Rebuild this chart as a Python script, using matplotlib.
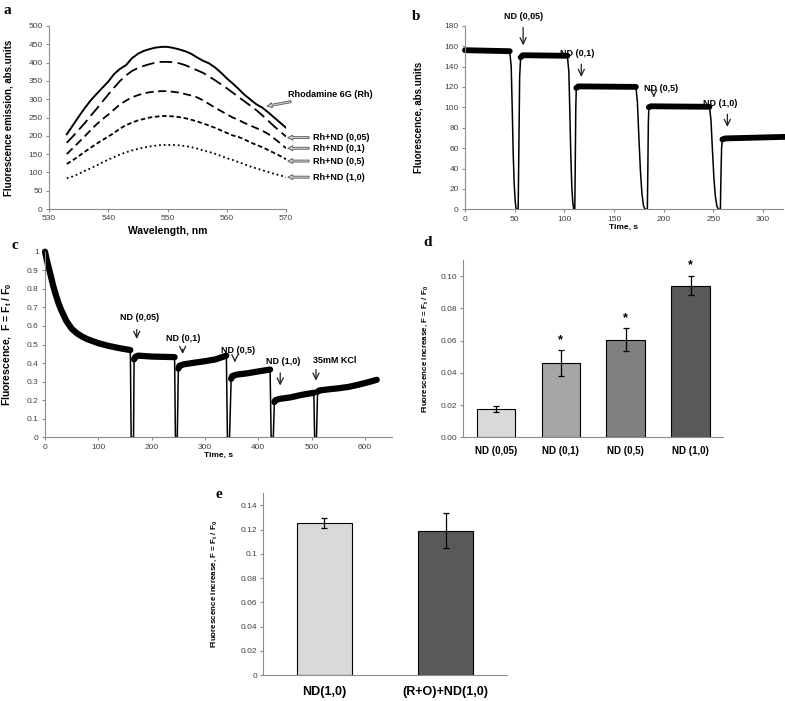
import matplotlib
matplotlib.use("Agg")
import matplotlib.pyplot as plt

plt.rcParams["font.family"] = ["Liberation Sans", "DejaVu Sans"]
plt.rcParams["mathtext.fontset"] = "custom"
plt.rcParams["mathtext.rm"] = "Liberation Sans:bold"
plt.rcParams["mathtext.it"] = "Liberation Sans:bold"
plt.rcParams["mathtext.bf"] = "Liberation Sans:bold"
plt.rcParams["mathtext.default"] = "bf"

# ---- panel a: emission spectra ----
wavelength = list(range(533, 571))
rh = [204, 228, 252, 275, 296, 314, 331, 348, 369, 383, 393, 412, 424, 432, 437, 441, 443, 443, 440,
      436, 431, 424, 414, 405, 398, 387, 373, 357, 343, 328, 312, 299, 286, 277, 264, 250, 236, 222]
rh_nd005 = [181, 198, 216, 234, 254, 273, 293, 313, 332, 350, 365, 377, 385, 391, 396, 400, 402, 402, 401,
            398, 393, 386, 379, 372, 362, 352, 341, 330, 318, 306, 294, 282, 270, 256, 241, 226, 212, 198]
rh_nd01 = [150, 166, 182, 198, 215, 231, 245, 258, 272, 286, 296, 305, 311, 316, 319, 321, 322, 322, 320,
           318, 314, 310, 305, 297, 287, 277, 268, 259, 250, 243, 235, 228, 221, 214, 205, 193, 180, 166]
rh_nd05 = [123, 133, 144, 156, 167, 178, 188, 198, 208, 220, 229, 236, 242, 246, 250, 252, 254, 254, 253,
           251, 248, 244, 239, 234, 228, 222, 215, 208, 201, 197, 190, 182, 175, 169, 161, 153, 145, 136]
rh_nd10 = [84, 89, 96, 104, 111, 119, 127, 135, 142, 149, 155, 160, 164, 168, 171, 173, 175, 175, 175,
           174, 172, 169, 165, 160, 156, 151, 145, 139, 134, 128, 122, 116, 111, 106, 101, 96, 92, 87]
spectra_labels = ["Rhodamine 6G (Rh)", "Rh+ND (0,05)", "Rh+ND (0,1)", "Rh+ND (0,5)", "Rh+ND (1,0)"]

# ---- panel b: fluorescence time course ----
b_plateau_t = [[0, 45], [56, 58, 62, 103], [112, 114, 172], [185, 187, 246], [259, 262, 322]]
b_plateau_f = [[156, 155], [149, 151, 151, 150.5], [119, 120.5, 120], [100, 101, 100.5], [68.5, 69.5, 71]]
b_drop_t = [[45, 46.5, 47.5, 48.5, 49.5, 50.5, 51.5, 53.5, 54.2, 55, 56],
            [103, 104.5, 105.5, 106.5, 107.5, 108.5, 109.5, 110.5, 111, 111.5, 112],
            [172, 173.5, 175, 176.5, 178, 179.5, 181, 183.5, 184, 184.5, 185],
            [246, 247.5, 249, 250.5, 252, 253.5, 255, 257, 257.5, 258.2, 259]]
b_drop_f = [[155, 140, 100, 55, 25, 8, 0, 0, 60, 130, 149],
            [150.5, 135, 95, 52, 22, 6, 0, 0, 50, 100, 119],
            [120, 105, 70, 38, 16, 4, 0, 0, 40, 85, 100],
            [100.5, 88, 58, 30, 12, 3, 0, 0, 30, 60, 68.5]]
b_marks = ["ND (0,05)", "ND (0,1)", "ND (0,5)", "ND (1,0)"]
b_mark_t = [58.5, 117, 190, 264]

# ---- panel c: normalized fluorescence time course ----
c_seg_t = [[0, 3, 6, 10, 15, 20, 25, 30, 40, 50, 60, 70, 80, 100, 120, 140, 160],
           [167, 170, 175, 200, 243],
           [250, 252, 260, 280, 300, 320, 340],
           [349, 351, 360, 380, 400, 422],
           [430, 432, 440, 460, 480, 504],
           [511, 514, 530, 550, 570, 590, 610, 622]]
c_seg_f = [[1.0, 0.96, 0.925, 0.88, 0.82, 0.77, 0.725, 0.688, 0.627, 0.585, 0.56, 0.542, 0.528, 0.507,
            0.492, 0.48, 0.47],
           [0.42, 0.435, 0.44, 0.435, 0.432],
           [0.37, 0.385, 0.393, 0.402, 0.41, 0.42, 0.44],
           [0.315, 0.33, 0.338, 0.345, 0.355, 0.365],
           [0.19, 0.2, 0.207, 0.215, 0.228, 0.24],
           [0.245, 0.252, 0.258, 0.264, 0.272, 0.285, 0.3, 0.31]]
c_drop_t = [[160, 161.5, 166, 167], [243, 244.5, 248, 250], [340, 342, 346, 349],
            [422, 424, 428, 430], [504, 505.5, 509, 511]]
c_drop_f = [[0.47, 0, 0, 0.42], [0.432, 0, 0, 0.37], [0.44, 0, 0, 0.315],
            [0.365, 0, 0, 0.19], [0.24, 0, 0, 0.245]]
c_marks = ["ND (0,05)", "ND (0,1)", "ND (0,5)", "ND (1,0)", "35mM KCl"]
c_mark_t = [172, 258, 356, 441, 508]

# ---- panel d: fluorescence increase ----
d_labels = ["ND (0,05)", "ND (0,1)", "ND (0,5)", "ND (1,0)"]
d_values = [0.0173, 0.046, 0.0606, 0.094]
d_errors = [0.0019, 0.008, 0.007, 0.006]
d_colors = ["#d9d9d9", "#a6a6a6", "#808080", "#595959"]

# ---- panel e ----
e_labels = ["ND(1,0)", "(R+O)+ND(1,0)"]
e_values = [0.1257, 0.119]
e_errors = [0.004, 0.0145]
e_colors = ["#d9d9d9", "#595959"]

W, H = 785, 701
fig = plt.figure(figsize=(W / 100, H / 100), dpi=100)


def add_ax(left, top, right, bottom):
    return fig.add_axes([left / W, 1 - bottom / H, (right - left) / W, (bottom - top) / H])


def style(ax, xticks=True):
    for s in ["top", "right"]:
        ax.spines[s].set_visible(False)
    for s in ["left", "bottom"]:
        ax.spines[s].set_color("#8c8c8c")
        ax.spines[s].set_linewidth(0.8)
    ax.tick_params(labelsize=6, color="#8c8c8c", labelcolor="#404040", length=2.5, width=0.8, pad=2)
    if not xticks:
        ax.tick_params(axis="x", length=0)


def letter(x, y, s):
    fig.text(x / W, 1 - y / H, s, family="Liberation Serif", weight="bold", fontsize=11, va="center")


arrow_down = dict(arrowstyle="->,head_length=0.45,head_width=0.22", lw=0.9, color="#222222")

# panel a
ax = add_ax(49, 26, 286, 209)
style(ax)
ax.plot(wavelength, rh, color="black", lw=1.4)
ax.plot(wavelength, rh_nd005, color="black", lw=1.3, dashes=(7, 3))
ax.plot(wavelength, rh_nd01, color="black", lw=1.3, dashes=(4.5, 2.5))
ax.plot(wavelength, rh_nd05, color="black", lw=1.3, dashes=(2.5, 1.5))
ax.plot(wavelength, rh_nd10, color="black", lw=1.3, dashes=(1, 1.6))
ax.set_xlim(530, 570)
ax.set_ylim(0, 500)
ax.set_xticks(range(530, 571, 10))
ax.set_yticks(range(0, 501, 50))
ax.set_xlabel("Wavelength, nm", fontsize=7.5, weight="bold", labelpad=3)
ax.set_ylabel("Fluorescence emission, abs.units", fontsize=7, weight="bold")
ax.yaxis.set_label_coords(-0.148, 0.5)
hollow = dict(arrowstyle="simple,head_length=0.55,head_width=0.55,tail_width=0.22",
              fc="#cfcfcf", ec="#555555", lw=0.6, shrinkA=1, shrinkB=0)
ax.annotate(spectra_labels[0], xy=(566.8, 281), xytext=(570.4, 314), fontsize=6.5, weight="bold",
            va="center", ha="left", arrowprops=hollow, annotation_clip=False)
for lab, yv in zip(spectra_labels[1:], [rh_nd005[-1] - 3, rh_nd01[-1], rh_nd05[-1] - 5, rh_nd10[-1]]):
    ax.annotate(lab, xy=(570.3, yv), xytext=(574.6, yv), fontsize=6.5, weight="bold",
                va="center", ha="left", arrowprops=hollow, annotation_clip=False)
letter(3, 11, "a")

# panel b
ax = add_ax(465, 25.7, 783, 209.3)
style(ax)
for t, f in zip(b_drop_t, b_drop_f):
    ax.plot(t, f, color="black", lw=1.1)
for t, f in zip(b_plateau_t, b_plateau_f):
    ax.plot(t, f, color="black", lw=4.2, solid_capstyle="round", clip_on=False)
ax.set_xlim(0, 320)
ax.set_ylim(0, 180)
ax.set_xticks(range(0, 301, 50))
ax.set_yticks(range(0, 181, 20))
ax.set_xlabel("Time, s", fontsize=6, weight="bold", labelpad=1)
ax.set_ylabel("Fluorescence, abs.units", fontsize=7, weight="bold")
ax.yaxis.set_label_coords(-0.132, 0.5)
b_text = [(58.5, 189), (113, 153), (197, 118), (257, 104)]
b_arrow = [(181, 158), (145, 127), (115, 107), (96, 78)]
for lab, t, (tx, ty), (a0, a1) in zip(b_marks, b_mark_t, b_text, b_arrow):
    ax.text(tx, ty, lab, fontsize=6.5, weight="bold", ha="center", va="center", clip_on=False)
    ax.annotate("", xy=(t, a1), xytext=(t, a0), annotation_clip=False, arrowprops=arrow_down)
letter(412, 16, "b")

# panel c
ax = add_ax(45, 251.7, 391.7, 437.3)
style(ax)
for t, f in zip(c_drop_t, c_drop_f):
    ax.plot(t, f, color="black", lw=1.1)
for t, f in zip(c_seg_t, c_seg_f):
    ax.plot(t, f, color="black", lw=4.5, solid_capstyle="round", clip_on=False)
ax.set_xlim(0, 650)
ax.set_ylim(0, 1.0)
ax.set_xticks(range(0, 601, 100))
ax.set_yticks([i / 10 for i in range(11)])
ax.set_yticklabels(["0", "0.1", "0.2", "0.3", "0.4", "0.5", "0.6", "0.7", "0.8", "0.9", "1"])
ax.set_xlabel("Time, s", fontsize=6, weight="bold", labelpad=1)
ax.set_ylabel("Fluorescence,  F = F$_t$ / F$_0$", fontsize=7.5, weight="bold")
ax.yaxis.set_label_coords(-0.089, 0.5)
c_text = [(178, 0.646), (260, 0.533), (362, 0.466), (447, 0.407), (544, 0.416)]
c_arrow = [(0.596, 0.515), (0.49, 0.434), (0.434, 0.389), (0.362, 0.264), (0.38, 0.29)]
for lab, t, (tx, ty), (a0, a1) in zip(c_marks, c_mark_t, c_text, c_arrow):
    ax.text(tx, ty, lab, fontsize=6.5, weight="bold", ha="center", va="center")
    ax.annotate("", xy=(t, a1), xytext=(t, a0), arrowprops=arrow_down)
letter(12, 246, "c")

# panel d
ax = add_ax(463.3, 260, 723, 437.3)
style(ax, xticks=False)
xd = list(range(len(d_labels)))
ax.bar(xd, d_values, width=0.59, color=d_colors, edgecolor="black", linewidth=0.8,
       yerr=d_errors, error_kw=dict(ecolor="black", elinewidth=0.9, capsize=2.5, capthick=0.9))
for i in xd[1:]:
    ax.text(i, d_values[i] + d_errors[i] + 0.0065, "*", ha="center", va="center", fontsize=9, weight="bold")
ax.set_xlim(-0.5, 3.5)
ax.set_ylim(0, 0.11)
ax.set_yticks([0, 0.02, 0.04, 0.06, 0.08, 0.10])
ax.set_yticklabels(["0.00", "0.02", "0.04", "0.06", "0.08", "0.10"])
ax.set_xticks(xd)
ax.set_xticklabels(d_labels, fontsize=7, weight="bold", color="black")
ax.tick_params(axis="x", pad=6)
ax.set_ylabel("Fluorescence increase, F = F$_t$ / F$_0$", fontsize=5.8, weight="bold")
ax.yaxis.set_label_coords(-0.128, 0.5)
letter(423, 243, "d")

# panel e
ax = add_ax(263.3, 493.3, 506.7, 675)
style(ax, xticks=False)
xe = list(range(len(e_labels)))
ax.bar(xe, e_values, width=0.45, color=e_colors, edgecolor="black", linewidth=0.8,
       yerr=e_errors, error_kw=dict(ecolor="black", elinewidth=0.9, capsize=2.5, capthick=0.9))
ax.set_xlim(-0.5, 1.5)
ax.set_ylim(0, 0.15)
ax.set_yticks([0, 0.02, 0.04, 0.06, 0.08, 0.1, 0.12, 0.14])
ax.set_yticklabels(["0", "0.02", "0.04", "0.06", "0.08", "0.1", "0.12", "0.14"])
ax.set_xticks(xe)
ax.set_xticklabels(e_labels, fontsize=9, weight="bold", color="black")
ax.tick_params(axis="x", pad=8)
ax.set_ylabel("Fluorescence increase, F = F$_t$ / F$_0$", fontsize=5.8, weight="bold")
ax.yaxis.set_label_coords(-0.182, 0.5)
letter(215, 494, "e")

fig.savefig("out.png", dpi=100)
